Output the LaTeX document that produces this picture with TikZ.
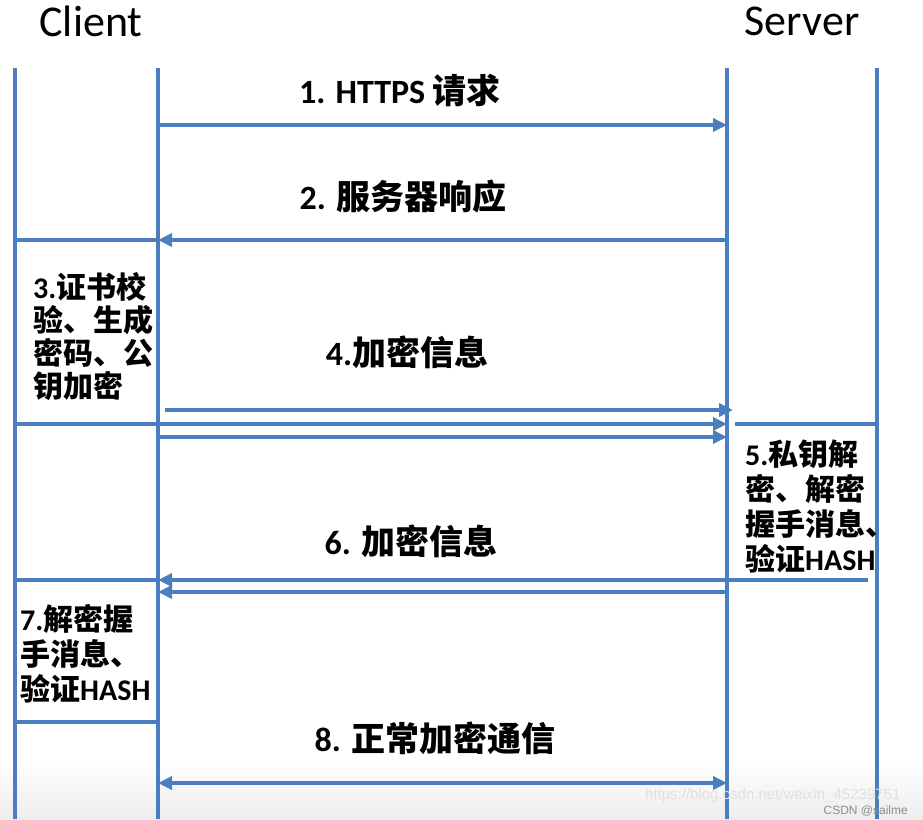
\documentclass[tikz,border=0pt]{standalone}
\usepackage{fontspec}
\setmainfont{Carlito}
\newfontfamily\cjk{Noto Sans CJK SC}
\newfontfamily\wmfont{Liberation Sans}
\newcommand\zh[1]{{\cjk #1}}
\usetikzlibrary{arrows.meta}
\definecolor{lineblue}{RGB}{74,126,190}

\begin{document}
\begin{tikzpicture}[x=1pt,y=-1pt]

  \useasboundingbox (0,0) rectangle (923,819);
  \fill[top color=white,bottom color=black!7] (0,760) rectangle (923,819);

  % node styles
  \tikzstyle{Head}=[font=\fontsize{44}{48}\selectfont,inner sep=0pt]
  \tikzstyle{Msg}=[font=\fontsize{34}{38}\selectfont\bfseries,inner sep=0pt]
  \tikzstyle{Note}=[
  font=\fontsize{30}{33}\selectfont\bfseries,
  align=left,
  anchor=north west,
  inner sep=0pt]
  \tikzstyle{Wide}=[Note,font=\fontsize{30}{35}\selectfont\bfseries]
  \tikzstyle{Line}=[lineblue,line width=4pt]
  \tikzstyle{Arrow}=[Line,-{Triangle[length=14pt,width=13pt]}]
  \tikzstyle{Mark}=[font=\wmfont\fontsize{15}{15}\selectfont,inner sep=0pt]

  \node[Head] (C) at (91,21) {Client};
  \node[Head] (S) at (802,21) {Server};

  % life lines
  \coordinate (a0) at ( 15,68); \coordinate (a1) at ( 15,819);
  \coordinate (b0) at (158,68); \coordinate (b1) at (158,819);
  \coordinate (d0) at (727,68); \coordinate (d1) at (727,819);
  \coordinate (e0) at (877,68); \coordinate (e1) at (877,819);
  \draw[Line] (a0) -- (a1);
  \draw[Line] (b0) -- (b1);
  \draw[Line] (d0) -- (d1);
  \draw[Line] (e0) -- (e1);

  % 1
  \node[Msg] (M1) at (400,90) {1. HTTPS \zh{请求}};
  \coordinate (c1) at (158,125); \coordinate (s1) at (727,125);
  \draw[Arrow] (c1) -- (s1);

  % 2
  \node[Msg] (M2) at (403,197) {2. \zh{服务器响应}};
  \coordinate (l2) at (15,240); \coordinate (c2) at (158,240); \coordinate (s2) at (727,240);
  \draw[Arrow] (s2) -- (c2);
  \draw[Line] (l2) -- (c2);

  % 3
  \node[Note] (N3) at (33,272) {3.\zh{证书校}\\\zh{验、生成}\\\zh{密码、公}\\\zh{钥加密}};

  % 4
  \node[Msg] (M4) at (407,352) {4.\zh{加密信息}};
  \coordinate (c4a) at (165,410); \coordinate (s4a) at (733,410);
  \coordinate (l4b) at ( 15,424); \coordinate (s4b) at (727,424);
  \coordinate (c4c) at (158,437); \coordinate (s4c) at (727,437);
  \draw[Arrow] (c4a) -- (s4a);
  \draw[Arrow] (l4b) -- (s4b);
  \draw[Arrow] (c4c) -- (s4c);

  % 5
  \coordinate (s5) at (735,424); \coordinate (r5) at (877,424);
  \draw[Line] (s5) -- (r5);
  \node[Wide] (N5) at (745,440) {5.\zh{私钥解}\\\zh{密、解密}\\\zh{握手消息、}\\\zh{验证}HASH};

  % 6
  \node[Msg] (M6) at (411,541) {6. \zh{加密信息}};
  \coordinate (r6) at (868,580); \coordinate (c6a) at (158,580); \coordinate (l6) at (15,580);
  \coordinate (s6) at (727,592); \coordinate (c6b) at (158,592);
  \draw[Arrow] (r6) -- (c6a);
  \draw[Arrow] (s6) -- (c6b);
  \draw[Line] (l6) -- (c6a);

  % 7
  \node[Wide] (N7) at (20,604) {7.\zh{解密握}\\\zh{手消息、}\\\zh{验证}HASH};
  \coordinate (l7) at (15,722); \coordinate (c7) at (158,722);
  \draw[Line] (l7) -- (c7);

  % 8
  \node[Msg] (M8) at (435,738) {8. \zh{正常加密通信}};
  \coordinate (c8) at (158,783); \coordinate (s8) at (727,783);
  \draw[Arrow,{Triangle[length=14pt,width=13pt]}-{Triangle[length=14pt,width=13pt]}] (c8) -- (s8);

  % watermark
  \node[Mark,text=black!12,anchor=west] (W) at (645,796) {https://blog.csdn.net/weixin\_45239751};
  \node[Mark,text=black!45,font=\wmfont\fontsize{12}{12}\selectfont,anchor=east] (A) at (908,811) {CSDN @sailme};

\end{tikzpicture}
\end{document}
